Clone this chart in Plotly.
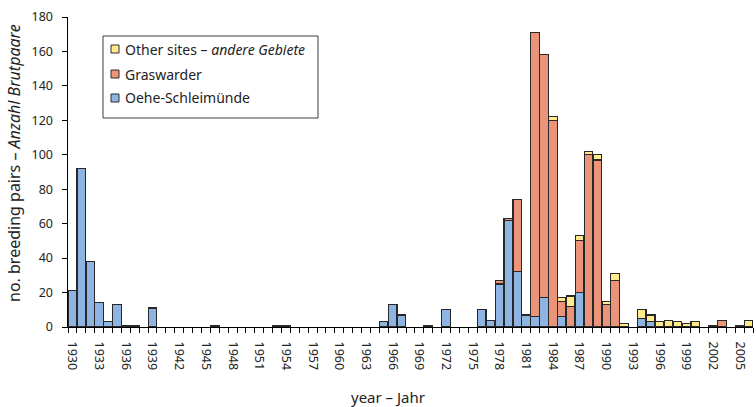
import plotly.graph_objects as go

years = list(range(1930, 2007))

oehe = {1930: 21, 1931: 92, 1932: 38, 1933: 14, 1934: 3, 1935: 13, 1936: 1, 1937: 1,
        1939: 11, 1946: 1, 1953: 1, 1954: 1, 1965: 3, 1966: 13, 1967: 7, 1970: 1,
        1972: 10, 1976: 10, 1977: 4, 1978: 25, 1979: 62, 1980: 32, 1981: 7, 1982: 6,
        1983: 17, 1985: 6, 1987: 20, 1994: 5, 1995: 3}
graswarder = {1978: 2, 1979: 1, 1980: 42, 1982: 165, 1983: 141, 1984: 120, 1985: 9,
              1986: 12, 1987: 30, 1988: 100, 1989: 97, 1990: 13, 1991: 27, 2003: 4}
other = {1984: 2, 1985: 2, 1986: 6, 1987: 3, 1988: 2, 1989: 3, 1990: 2, 1991: 4,
         1992: 2, 1994: 5, 1995: 4, 1996: 3, 1997: 4, 1998: 3, 1999: 2, 2000: 3,
         2002: 1, 2005: 1, 2006: 4}

series_names = ["Other sites – <i>andere Gebiete</i>", "Graswarder", "Oehe-Schleimünde"]
series_colors = ["rgb(255,234,140)", "rgb(234,148,122)", "rgb(142,180,226)"]

oehe_vals = [oehe.get(y) for y in years]
gras_vals = [graswarder.get(y) for y in years]
other_vals = [other.get(y) for y in years]

tick_years = list(range(1930, 2006, 3))
x_title = "year – Jahr"
y_title = "no. breeding pairs – <i>Anzahl Brutpaare</i>"

outline = dict(color="rgb(40,40,40)", width=1.2)
font_family = "Noto Sans, Open Sans, sans-serif"
text_color = "rgb(35,35,35)"

fig = go.Figure()
fig.add_trace(go.Bar(x=years, y=oehe_vals, name=series_names[2],
                     marker=dict(color=series_colors[2], line=outline)))
fig.add_trace(go.Bar(x=years, y=gras_vals, name=series_names[1],
                     marker=dict(color=series_colors[1], line=outline)))
fig.add_trace(go.Bar(x=years, y=other_vals, name=series_names[0],
                     marker=dict(color=series_colors[0], line=outline)))

W, H = 756, 407
L, R, T, B = 68, 3, 17, 80
pw, ph = W - L - R, H - T - B


def px(x):
    return (x - L) / pw


def py(y):
    return (H - B - y) / ph


# manual legend
shapes = [dict(type="rect", xref="paper", yref="paper",
               x0=px(103), x1=px(318), y0=py(118), y1=py(36),
               line=dict(color="rgb(60,60,60)", width=1), fillcolor="white", layer="above")]
annotations = []
row_y = [49, 74, 98]
for name, col, yy in zip(series_names, series_colors, row_y):
    shapes.append(dict(type="rect", xref="paper", yref="paper",
                       x0=px(111), x1=px(119), y0=py(yy + 4), y1=py(yy - 4),
                       line=dict(color="rgb(45,45,45)", width=1), fillcolor=col, layer="above"))
    annotations.append(dict(xref="paper", yref="paper", x=px(123), y=py(yy),
                            xanchor="left", yanchor="middle", text=name, showarrow=False,
                            font=dict(size=14, color=text_color)))

# axis titles
annotations.append(dict(xref="paper", yref="paper", x=px(388), y=py(397),
                        xanchor="center", yanchor="middle", text=x_title, showarrow=False,
                        font=dict(size=15, color=text_color)))
annotations.append(dict(xref="paper", yref="paper", x=px(14), y=py(163),
                        xanchor="center", yanchor="middle", text=y_title, showarrow=False,
                        textangle=-90, font=dict(size=16, color=text_color)))

fig.update_layout(
    barmode="stack",
    bargap=0.04,
    width=W, height=H,
    margin=dict(l=L, r=R, t=T, b=B),
    paper_bgcolor="white", plot_bgcolor="white",
    font=dict(family=font_family, size=12, color=text_color),
    showlegend=False,
    shapes=shapes,
    annotations=annotations,
)
fig.update_xaxes(
    range=[1929.5, 2006.5],
    tickmode="array", tickvals=tick_years, ticktext=[str(y) for y in tick_years],
    tickangle=90, ticks="outside", ticklen=11, tickcolor="rgba(0,0,0,0)",
    showline=True, linecolor="black", linewidth=1,
    showgrid=False, zeroline=False,
    minor=dict(ticks="outside", tick0=1929.5, dtick=1, ticklen=5, tickcolor="black", showgrid=False),
    tickfont=dict(size=12.5),
)
fig.update_yaxes(
    range=[0, 180], dtick=20,
    ticks="outside", ticklen=5, tickcolor="black",
    ticksuffix="\u00a0\u00a0",
    showline=True, linecolor="black", linewidth=1,
    showgrid=False, zeroline=False,
    tickfont=dict(size=12.5),
)

fig.write_html("out.html")
